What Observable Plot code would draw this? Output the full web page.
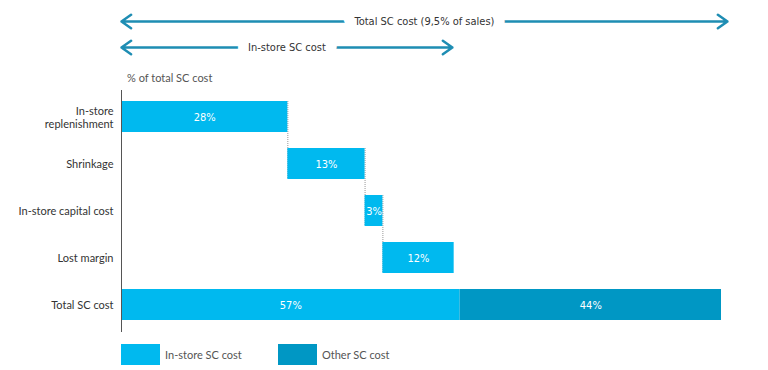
<!DOCTYPE html>
<html>
<head>
<meta charset="utf-8">
<script src="https://cdn.jsdelivr.net/npm/d3@7"></script>
<script src="https://cdn.jsdelivr.net/npm/@observablehq/plot@0.6"></script>
<style>
  html, body { margin: 0; padding: 0; background: #fff; }
  body { width: 768px; height: 370px; overflow: hidden; font-family: Lato, "Open Sans", sans-serif; }
  #topchart svg, #main svg { display: block; }
  #sub { height: 26px; box-sizing: border-box; padding: 8px 0 0 127px; font-size: 11px; line-height: 12px; color: #555; }
  #legend { margin: 6px 0 0 121px; }
  #legend div { font-family: Lato, "Open Sans", sans-serif; font-size: 11px; color: #555; margin: 0; }
  #legend span { margin-right: 0; width: 157px; }
  #legend svg { margin-right: 5px; }
</style>
</head>
<body>
<div id="topchart"></div>
<div id="sub">% of total SC cost</div>
<div id="main"></div>
<div id="legend"></div>
<script>
// ---- data ----
const steps = ["In-store replenishment", "Shrinkage", "In-store capital cost", "Lost margin"];
const stepValues = [28, 13, 3, 12];
const totalRow = "Total SC cost";
const totalParts = ["In-store SC cost", "Other SC cost"];
const totalValues = [57, 44];
const partColors = ["#00b9ef", "#0097c4"];
const spanRows = ["total", "instore"];
const spanLabels = ["Total SC cost (9,5% of sales)", "In-store SC cost"];
const spanEnds = [102, 55.7];

const xMax = totalValues[0] + totalValues[1];
const fontCond = "'Liberation Sans Narrow', 'DejaVu Sans Condensed', 'Roboto Condensed', Lato, sans-serif";

// waterfall rows
let acc = 0;
const stepBars = steps.map((s, i) => {
  const d = {row: s, x1: acc, x2: acc + stepValues[i], value: stepValues[i], part: totalParts[0]};
  acc += stepValues[i];
  return d;
});
let acc2 = 0;
const totalBars = totalParts.map((p, i) => {
  const d = {row: totalRow, x1: acc2, x2: acc2 + totalValues[i], value: totalValues[i], part: p};
  acc2 += totalValues[i];
  return d;
});
const bars = stepBars.concat(totalBars);
const connectors = stepBars.slice(0, -1).map((d, i) => ({x: d.x2, y1: d.row, y2: stepBars[i + 1].row}));

// top arrows
const spans = spanRows.map((r, i) => ({row: r, label: spanLabels[i], from: 0, to: spanEnds[i], mid: spanEnds[i] / 2}));
const arrowColor = "#1e8db3";
const topChart = Plot.plot({
  width: 768, height: 64,
  marginLeft: 121, marginRight: 47, marginTop: 8, marginBottom: 4,
  x: {domain: [0, xMax], axis: null},
  y: {type: "point", domain: spanRows, axis: null, padding: 0.5},
  style: {fontFamily: fontCond, fontSize: "11px", color: "#333", background: "white", overflow: "visible"},
  marks: [
    Plot.arrow(spans, {x1: "mid", x2: "from", y1: "row", y2: "row", stroke: arrowColor, strokeWidth: 2.5, headLength: 7, headAngle: 70}),
    Plot.arrow(spans, {x1: "mid", x2: "to", y1: "row", y2: "row", stroke: arrowColor, strokeWidth: 2.5, headLength: 7, headAngle: 70}),
    Plot.text(spans, {x: "mid", y: "row", text: "label", fill: "#333", stroke: "white", strokeWidth: 22, fontSize: 11})
  ]
});
document.getElementById("topchart").appendChild(topChart);

const rows = steps.concat([totalRow]);
const mainChart = Plot.plot({
  width: 768, height: 242,
  marginLeft: 121, marginRight: 47, marginTop: 0, marginBottom: 0,
  x: {domain: [0, xMax], axis: null},
  y: {domain: rows, paddingInner: 0.33, paddingOuter: 0.21, label: null, axis: null},
  color: {domain: totalParts, range: partColors},
  style: {fontFamily: "Lato, 'Open Sans', sans-serif", fontSize: "11px", color: "#333", background: "white"},
  marks: [
    Plot.axisY({tickSize: 0, tickPadding: 8, label: null, lineHeight: 1.25, fontSize: 11,
      tickFormat: d => d === "In-store replenishment" ? "In-store\nreplenishment" : d}),
    Plot.ruleX(connectors, {x: "x", y1: "y1", y2: "y2", stroke: "#999", strokeWidth: 1, strokeDasharray: "1,1"}),
    Plot.barX(bars, {x1: "x1", x2: "x2", y: "row", fill: "part"}),
    Plot.text(bars, {x: d => (d.x1 + d.x2) / 2, y: "row", text: d => d.value + "%", fill: "white", fontSize: 11, fontFamily: fontCond}),
    Plot.ruleX([0], {stroke: "#555", strokeWidth: 1})
  ]
});
document.getElementById("main").appendChild(mainChart);

const legend = Plot.legend({color: {domain: totalParts, range: partColors}, legend: "swatches", swatchWidth: 39, swatchHeight: 21});
document.getElementById("legend").appendChild(legend);
</script>
</body>
</html>
